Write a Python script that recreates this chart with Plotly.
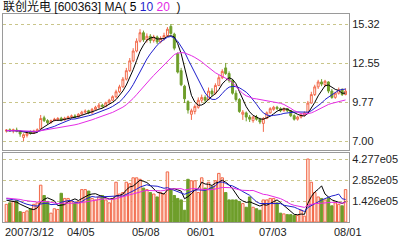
import numpy as np
import plotly.graph_objects as go

# ---------------- data ----------------
title_name = "联创光电 [600363]"
ma_windows = [5, 10, 20]

date_labels = ["2007/3/12", "04/05", "05/08", "06/01", "07/03", "08/01"]
date_label_idx = [0, 18, 37, 53, 74, 96]

# 19 closes / volumes before the first visible day (feed the moving averages)
pre_close = [7.85, 7.90, 7.80, 7.75, 7.60, 7.70, 7.65, 7.80, 7.90, 7.75,
             7.70, 7.60, 7.65, 7.75, 7.80, 7.70, 7.75, 7.80, 7.70]
pre_volume = [1.7e5, 1.9e5, 1.5e5, 1.6e5, 1.8e5, 1.4e5, 1.7e5, 1.9e5, 1.6e5, 1.5e5,
              1.8e5, 1.7e5, 1.6e5, 1.9e5, 1.5e5, 1.6e5, 1.7e5, 1.5e5, 1.4e5]

open_ = [7.70, 7.80, 7.72, 7.78, 7.65, 7.25, 7.40, 7.65, 7.55, 7.70,
         7.85, 8.65, 8.45, 8.30, 8.45, 8.50, 8.62, 8.50, 8.60, 8.72,
         8.78, 8.72, 8.90, 9.05, 9.15, 9.00, 9.25, 9.40, 9.55, 9.45,
         9.72, 9.90, 10.15, 10.50, 10.85, 11.40, 12.00, 12.70, 13.40, 14.10,
         14.70, 14.20, 14.45, 14.15, 14.40, 14.05, 14.30, 14.50, 15.15, 14.60,
         13.20, 12.00, 10.90, 9.80, 8.90, 9.10, 9.40, 9.90, 10.10, 9.95,
         10.55, 10.40, 10.95, 11.50, 12.20, 11.80, 11.30, 10.40, 9.95, 8.90,
         9.00, 8.70, 8.45, 8.70, 8.55, 8.25, 8.60, 9.00, 9.25, 9.40,
         9.30, 9.15, 9.30, 9.15, 8.80, 8.55, 8.70, 8.85, 9.00, 9.70,
         10.30, 10.85, 11.20, 11.00, 11.20, 10.55, 10.10, 10.40, 10.65, 10.30]
close = [7.78, 7.72, 7.80, 7.70, 7.50, 7.45, 7.55, 7.55, 7.70, 7.80,
         8.60, 8.45, 8.30, 8.45, 8.55, 8.60, 8.48, 8.62, 8.72, 8.78,
         8.70, 8.90, 9.05, 9.12, 9.00, 9.25, 9.40, 9.55, 9.45, 9.72,
         9.90, 10.15, 10.50, 10.85, 11.40, 12.00, 12.70, 13.40, 14.10, 14.70,
         14.20, 14.45, 14.15, 14.40, 14.05, 14.30, 14.50, 14.95, 14.65, 13.60,
         11.90, 11.00, 10.00, 9.20, 9.15, 9.45, 9.90, 10.10, 9.90, 10.55,
         10.35, 10.95, 11.50, 11.95, 11.80, 11.30, 10.40, 9.95, 9.10, 9.05,
         8.70, 8.55, 8.70, 8.55, 8.35, 8.60, 9.00, 9.30, 9.40, 9.30,
         9.15, 9.30, 9.15, 8.80, 8.55, 8.70, 8.85, 9.00, 9.70, 10.30,
         10.85, 11.20, 11.05, 11.25, 10.55, 10.10, 10.40, 10.65, 10.30, 10.55]
high = [7.85, 7.90, 7.88, 7.95, 7.75, 7.55, 7.65, 7.75, 7.80, 7.90,
        8.85, 8.80, 8.55, 8.52, 8.65, 8.70, 8.72, 8.72, 8.80, 8.88,
        8.90, 8.98, 9.15, 9.25, 9.22, 9.35, 9.50, 9.70, 9.65, 9.80,
        10.00, 10.25, 10.65, 11.00, 11.55, 12.20, 12.90, 13.60, 14.30, 14.95,
        14.85, 14.65, 14.60, 14.55, 14.50, 14.45, 14.70, 15.10, 15.32, 14.70,
        13.30, 12.20, 11.00, 9.90, 9.30, 9.60, 10.10, 10.30, 10.25, 10.80,
        10.75, 11.10, 11.70, 12.10, 12.55, 11.95, 11.40, 10.60, 10.05, 9.20,
        9.10, 8.85, 8.80, 8.85, 8.65, 8.70, 9.10, 9.40, 9.50, 9.50,
        9.40, 9.40, 9.35, 9.20, 8.90, 8.80, 8.95, 9.10, 9.85, 10.50,
        11.00, 11.35, 11.40, 11.35, 11.25, 10.70, 10.50, 10.80, 10.75, 10.75]
low = [7.60, 7.65, 7.55, 7.62, 7.30, 7.00, 7.25, 7.45, 7.50, 7.62,
       7.80, 8.35, 8.20, 8.25, 8.40, 8.42, 8.40, 8.45, 8.52, 8.60,
       8.62, 8.65, 8.85, 8.95, 8.90, 8.95, 9.15, 9.30, 9.35, 9.40,
       9.62, 9.85, 10.05, 10.40, 10.80, 11.30, 11.90, 12.60, 13.30, 14.00,
       14.05, 14.00, 13.95, 14.00, 13.90, 13.95, 14.15, 14.40, 14.55, 13.45,
       11.80, 10.90, 9.70, 8.95, 8.50, 8.90, 9.30, 9.75, 9.70, 9.90,
       10.20, 10.30, 10.90, 11.40, 11.70, 11.15, 10.30, 9.80, 9.00, 8.50,
       8.40, 8.35, 8.30, 8.45, 8.20, 7.65, 8.55, 8.95, 9.15, 9.20,
       9.05, 9.10, 9.05, 8.70, 8.45, 8.45, 8.60, 8.75, 8.95, 9.65,
       10.20, 10.70, 10.90, 10.85, 10.40, 10.00, 10.00, 10.30, 10.20, 10.25]
volume = [1.20e5, 1.30e5, 1.40e5, 1.45e5, 0.70e5, 0.65e5, 0.75e5, 0.90e5, 1.20e5, 1.30e5,
          2.50e5, 1.80e5, 1.40e5, 0.60e5, 0.90e5, 0.85e5, 1.95e5, 1.60e5, 1.60e5, 1.40e5,
          1.30e5, 1.40e5, 2.20e5, 2.20e5, 2.10e5, 1.60e5, 1.50e5, 1.70e5, 1.80e5, 1.50e5,
          1.30e5, 1.60e5, 2.70e5, 1.90e5, 2.00e5, 2.70e5, 2.60e5, 3.00e5, 3.00e5, 2.90e5,
          2.30e5, 2.20e5, 2.00e5, 1.90e5, 1.70e5, 2.00e5, 1.90e5, 3.40e5, 2.20e5, 1.80e5,
          1.60e5, 1.50e5, 0.80e5, 2.90e5, 2.80e5, 2.80e5, 2.00e5, 3.00e5, 2.30e5, 2.70e5,
          2.40e5, 2.80e5, 3.30e5, 3.00e5, 2.00e5, 1.50e5, 1.50e5, 1.50e5, 1.40e5, 1.25e5,
          1.00e5, 1.70e5, 1.00e5, 0.90e5, 0.80e5, 1.50e5, 1.50e5, 1.60e5, 1.60e5, 1.30e5,
          0.60e5, 0.55e5, 0.50e5, 0.50e5, 0.45e5, 0.45e5, 0.80e5, 0.40e5, 4.2774e5, 2.70e5,
          2.00e5, 1.70e5, 1.60e5, 1.50e5, 1.60e5, 1.10e5, 1.30e5, 1.20e5, 1.10e5, 2.20e5]

# ---------------- styling ----------------
UP = "#F2694A"
DN = "#6E9E2A"
MA_COLORS = ["#000000", "#1F1FCC", "#E52BE5"]
GRID = "#C9C58A"
FRAME = "#9A9A9A"
FONT = "Liberation Sans, Arial, Noto Sans CJK SC, sans-serif"


def moving_average(pre, vals, w):
    full = np.array(pre + vals, dtype=float)
    out = np.convolve(full, np.ones(w) / w, mode="valid")
    return out[-len(vals):]


n = len(close)
x = list(range(n))

fig = go.Figure()

fig.add_trace(go.Candlestick(
    x=x, open=open_, high=high, low=low, close=close,
    increasing=dict(line=dict(color=UP, width=1), fillcolor="#FFFFFF"),
    decreasing=dict(line=dict(color=DN, width=1), fillcolor=DN),
    whiskerwidth=0, xaxis="x", yaxis="y", showlegend=False, hoverinfo="skip"))

for w, col in zip(ma_windows, MA_COLORS):
    fig.add_trace(go.Scatter(x=x, y=moving_average(pre_close, close, w), mode="lines",
                             line=dict(color=col, width=1), xaxis="x", yaxis="y",
                             showlegend=False, hoverinfo="skip"))

up_day = [c >= o for o, c in zip(open_, close)]
fig.add_trace(go.Bar(
    x=x, y=volume, width=0.72,
    marker=dict(color=["#FFE6DC" if u else DN for u in up_day],
                line=dict(color=[UP if u else DN for u in up_day], width=1)),
    xaxis="x2", yaxis="y2", showlegend=False, hoverinfo="skip"))

for w, col in zip(ma_windows, MA_COLORS):
    fig.add_trace(go.Scatter(x=x, y=moving_average(pre_volume, volume, w), mode="lines",
                             line=dict(color=col, width=1), xaxis="x2", yaxis="y2",
                             showlegend=False, hoverinfo="skip"))

# axis ticks derived from the data: max / min and even steps between
p_hi, p_lo = max(high), min(low)
p_ticks = [p_lo + k * (p_hi - p_lo) / 3 for k in range(4)]
p_span = p_hi - p_lo
v_hi = max(volume)
v_ticks = [v_hi * k / 3 for k in (1, 2, 3)]


def vfmt(v):
    m, e = f"{v:.3e}".split("e")
    return f"{m}e{int(e):02d}"


axis_common = dict(showline=True, mirror=True, linecolor=FRAME, linewidth=1,
                   zeroline=False, ticks="", fixedrange=True)

fig.update_layout(
    width=400, height=240,
    margin=dict(l=2, r=48, t=14, b=18),
    paper_bgcolor="white", plot_bgcolor="white",
    font=dict(family=FONT, size=11, color="#222222"),
    boxgap=0.2,
    xaxis=dict(domain=[0, 1], range=[-1, n], anchor="y", showticklabels=False,
               showgrid=False, rangeslider=dict(visible=False), **axis_common),
    xaxis2=dict(domain=[0, 1], range=[-1, n], anchor="y2", showticklabels=False,
                showgrid=False, matches="x", **axis_common),
    yaxis=dict(domain=[72 / 208, 1], side="right", anchor="x",
               range=[p_lo - p_span * 9 / 117, p_hi + p_span * 10 / 117],
               tickvals=p_ticks, ticktext=[f"{t:.2f}" for t in p_ticks],
               showgrid=True, gridcolor=GRID, griddash="dot", gridwidth=1,
               **axis_common),
    yaxis2=dict(domain=[0, 69 / 208], side="right", anchor="x2",
                range=[0, v_hi * 69 / 63],
                tickvals=v_ticks, ticktext=[vfmt(t) for t in v_ticks],
                showgrid=True, gridcolor=GRID, griddash="dot", gridwidth=1,
                **axis_common),
)

title_html = (f"{title_name} MA( <span style='color:{MA_COLORS[0]}'>{ma_windows[0]}</span> "
              f"<span style='color:{MA_COLORS[1]}'>{ma_windows[1]}</span> "
              f"<span style='color:{MA_COLORS[2]}'>{ma_windows[2]}</span>  )")
annotations = [dict(text=title_html, xref="paper", yref="paper", x=0, y=1 + 7 / 208,
                    xanchor="left", yanchor="middle", showarrow=False, xshift=-2,
                    font=dict(size=12, color="#111111"))]
for lab, idx in zip(date_labels, date_label_idx):
    annotations.append(dict(text=lab, xref="x2", yref="paper", x=idx, y=-10 / 208,
                            xanchor="left", yanchor="middle", showarrow=False,
                            xshift=-3, font=dict(size=11, color="#222222")))
fig.update_layout(annotations=annotations)

fig.write_html("out.html")
